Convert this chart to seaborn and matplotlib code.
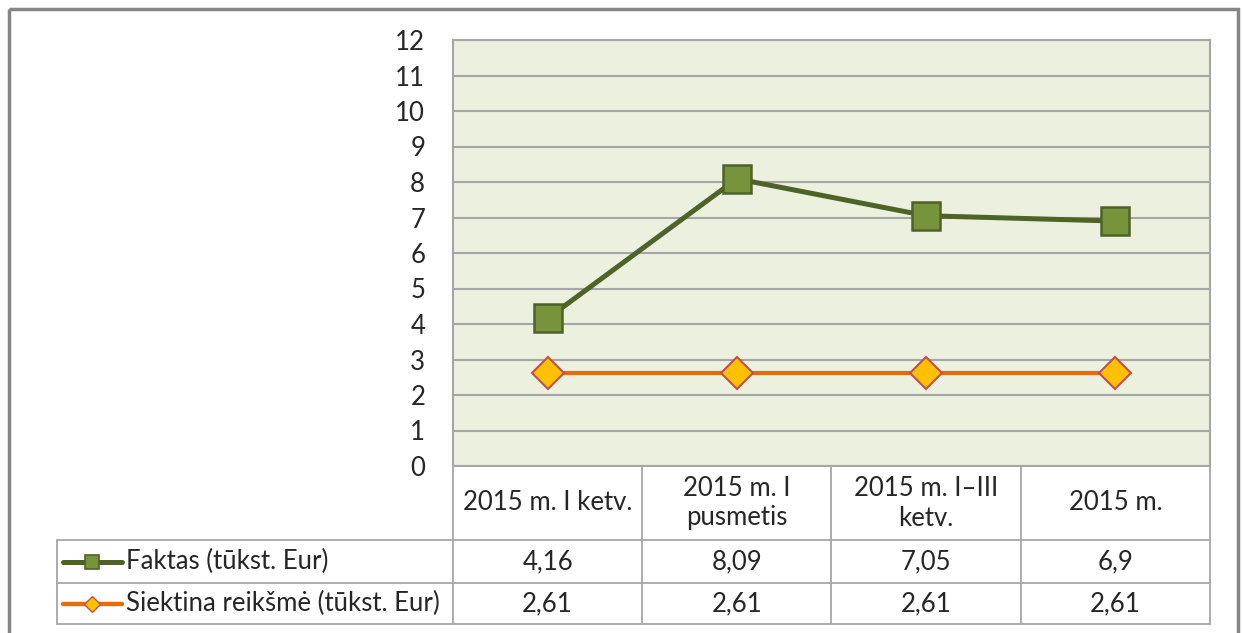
import matplotlib
matplotlib.use('Agg')
import matplotlib.pyplot as plt
import seaborn as sns
import pandas as pd
from matplotlib.patches import Rectangle

# duomenys
categories = ["2015 m. I ketv.", "2015 m. I\npusmetis", "2015 m. I\u2013III\nketv.", "2015 m."]
faktas = [4.16, 8.09, 7.05, 6.9]
siektina = [2.61, 2.61, 2.61, 2.61]
series_names = ["Faktas (tūkst. Eur)", "Siektina reikšmė (tūkst. Eur)"]
y_ticks = list(range(0, 13))

sns.set_style("white")
plt.rcParams['font.family'] = ['Lato', 'DejaVu Sans']
FS = 18.5
TXT = '#262626'
GRID = '#A6A6A6'

W, H = 1243, 633
fig = plt.figure(figsize=(W / 100, H / 100), dpi=100)

# plot area in pixel coordinates
left, right, top, bottom = 453, 1210, 40, 466
ax = fig.add_axes([left / W, 1 - bottom / H, (right - left) / W, (bottom - top) / H])
ax.set_facecolor('#EBF1DE')

df = pd.DataFrame({"pos": range(len(categories)), "faktas": faktas, "siektina": siektina})

sns.lineplot(data=df, x="pos", y="faktas", ax=ax, color='#4F6228', linewidth=3.6,
             marker='s', markersize=20, markerfacecolor='#77933C',
             markeredgecolor='#4F6228', markeredgewidth=1.8, zorder=4)
sns.lineplot(data=df, x="pos", y="siektina", ax=ax, color='#E46C0A', linewidth=3,
             marker='D', markersize=16, markerfacecolor='#FFC000',
             markeredgecolor='#C0504D', markeredgewidth=1.5, zorder=3)

ax.set_xlim(-0.5, len(categories) - 0.5)
ax.set_ylim(0, 12)
ax.set_yticks(y_ticks)
ax.set_xticks([])
ax.set_xlabel("")
ax.set_ylabel("")
ax.grid(axis='y', color=GRID, linewidth=1.5)
ax.set_axisbelow(True)
ax.tick_params(axis='y', length=0, pad=20, labelsize=FS, labelcolor=TXT)
for s in ax.spines.values():
    s.set_color(GRID)
    s.set_linewidth(1.5)

# overlay for data table and frame (pixel coordinates)
ov = fig.add_axes([0, 0, 1, 1], zorder=5)
ov.set_xlim(0, W)
ov.set_ylim(H, 0)
ov.axis('off')
ov.patch.set_alpha(0)

n = len(categories)
col_w = (right - left) / n
edges = [left + i * col_w for i in range(n + 1)]
row_lines = [bottom, 540, 583, 624]
label_left = 57

lw_t = 1.3
for e in edges:
    ov.plot([e, e], [bottom, row_lines[-1]], color=GRID, lw=lw_t)
ov.plot([label_left, label_left], [row_lines[1], row_lines[-1]], color=GRID, lw=lw_t)
for r in row_lines[1:]:
    ov.plot([label_left, right], [r, r], color=GRID, lw=lw_t)

# header
for i, cat in enumerate(categories):
    cx = (edges[i] + edges[i + 1]) / 2
    ov.text(cx, (row_lines[0] + row_lines[1]) / 2, cat, ha='center', va='center',
            fontsize=FS, color=TXT, linespacing=1.25)

# values rows
styles = [
    dict(color='#4F6228', lw=3.6, marker='s', ms=10, mfc='#77933C', mec='#4F6228', mew=1.2),
    dict(color='#E46C0A', lw=3.2, marker='D', ms=8, mfc='#FFC000', mec='#C0504D', mew=1),
]
for r, (name, vals, st) in enumerate(zip(series_names, [faktas, siektina], styles)):
    cy = (row_lines[r + 1] + row_lines[r + 2]) / 2
    ov.plot([63, 122], [cy, cy], color=st['color'], lw=st['lw'], solid_capstyle='round')
    ov.plot([92], [cy], marker=st['marker'], ms=st['ms'], mfc=st['mfc'], mec=st['mec'],
            mew=st['mew'], linestyle='none')
    ov.text(126, cy, name, ha='left', va='center', fontsize=FS, color=TXT)
    for i, v in enumerate(vals):
        cx = (edges[i] + edges[i + 1]) / 2
        ov.text(cx, cy, str(v).replace('.', ','), ha='center', va='center',
                fontsize=FS, color=TXT)

# outer chart frame
ov.add_patch(Rectangle((9, 9), 1238 - 9, H + 20, fill=False, edgecolor='#868686', lw=2.5,
                       clip_on=False))

fig.savefig('out.png', dpi=100)
